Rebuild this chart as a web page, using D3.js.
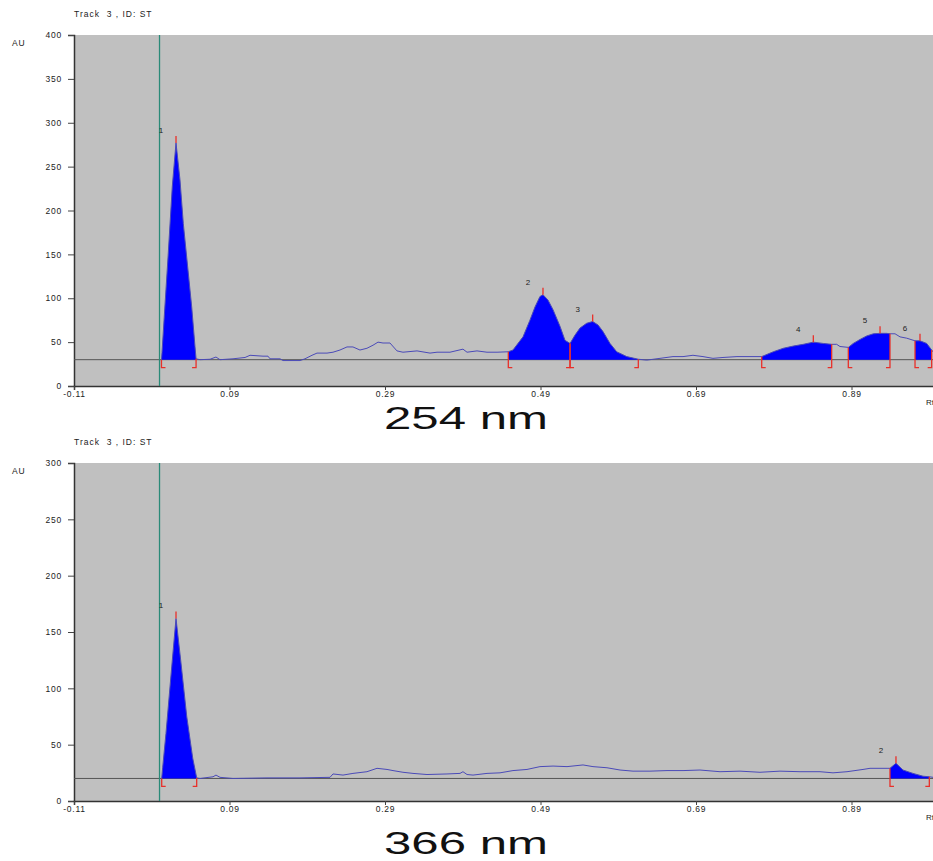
<!DOCTYPE html>
<html>
<head>
<meta charset="utf-8">
<script src="https://cdn.jsdelivr.net/npm/d3@7"></script>
<style>
html,body{margin:0;padding:0;background:#fff;overflow:hidden;}
svg{display:block;}
text{font-family:"Liberation Sans",Arial,sans-serif;}
</style>
</head>
<body>
<svg id="chart" width="933" height="861"></svg>
<script>
// ---------- data ----------
const xTicks = [-0.11, 0.09, 0.29, 0.49, 0.69, 0.89];
const xTickLabels = ["-0.11", "0.09", "0.29", "0.49", "0.69", "0.89"];
const yTicksTop = [0, 50, 100, 150, 200, 250, 300, 350, 400];
const yTicksBottom = [0, 50, 100, 150, 200, 250, 300];
const titleText = "Track  3 , ID: ST";
const topCaption = "254 nm";
const bottomCaption = "366 nm";
const baselineTop = 30;
const baselineBottom = 20;

// 254 nm trace (Rf, AU)
const rfTop = [0.0025,0.0032,0.0058,0.0113,0.0164,0.0212,0.0263,0.0306,0.0414,0.0456,0.0470,
  0.0521,0.0650,0.0726,0.0778,0.0945,0.1100,0.1164,0.1331,0.1395,0.1421,0.1550,0.1588,0.1807,
  0.1871,0.1961,0.2025,0.2154,0.2231,0.2321,0.2411,0.2488,0.2578,0.2668,0.2746,0.2810,0.2874,
  0.2964,0.3054,0.3131,0.3312,0.3479,0.3569,0.3736,0.3903,0.3955,0.4083,0.4212,0.4341,0.4486,
  0.4546,0.4675,0.4764,0.4829,0.4893,0.4932,0.4996,0.5061,0.5151,0.5215,0.5280,0.5344,0.5408,
  0.5494,0.5571,0.5640,0.5704,0.5794,0.5880,0.6009,0.6158,0.6266,0.6437,0.6604,0.6733,0.6861,
  0.6990,0.7118,0.7247,0.7427,0.7556,0.7745,0.7894,0.8023,0.8151,0.8280,0.8409,0.8537,0.8645,
  0.8709,0.8752,0.8859,0.8923,0.9009,0.9095,0.9181,0.9267,0.9353,0.9395,0.9460,0.9524,0.9610,
  0.9717,0.9781,0.9867,0.9931,1.0000];
const auTop = [30,38,75,152,227,277,235,185,90,45,31,
  30,30.5,33,30,31,32.5,35,34,34,31,31,29,29,
  31,35,37.5,37.5,38.5,41,44.5,44.5,41,43,46.5,50,49,
  49,40,38.5,40,37.5,38.5,38.5,42,38.5,40,38.5,38.5,39,
  41,56,75,90,102,104,98,87,68,52,48.5,58,66,
  71.5,73.5,69.5,62,48.5,39,33.5,30.5,29.5,31.5,33.5,33.5,35,
  33.5,31.5,32.5,33.5,33.5,33.5,39,43,45.5,47.5,50,48.5,47.5,
  47.5,45,44,48.5,53,57,59.5,60,60,59.5,59.5,56,54.5,
  51.5,51.5,48.5,41,33];
const peakIdsTop = ["1", "2", "3", "4", "5", "6"];
const peakStartTop = [0.0025, 0.4486, 0.5280, 0.7745, 0.8859, 0.9717];
const peakEndTop = [0.0470, 0.5280, 0.6158, 0.8645, 0.9395, 0.9931];
const peakApexTop = [0.0212, 0.4932, 0.5571, 0.8409, 0.9267, 0.9781];

// 366 nm trace (Rf, AU)
const rfBottom = [0.0028,0.0041,0.0083,0.0157,0.0212,0.0272,0.0350,0.0427,0.0478,
  0.0521,0.0688,0.0726,0.0778,0.0945,0.1382,0.1807,0.2193,0.2231,0.2360,0.2488,0.2668,0.2797,
  0.2926,0.3003,0.3131,0.3260,0.3440,0.3697,0.3865,0.3903,0.3955,0.4032,0.4212,0.4379,0.4546,
  0.4726,0.4893,0.5061,0.5241,0.5447,0.5575,0.5755,0.5923,0.6090,0.6308,0.6527,0.6733,0.6951,
  0.7209,0.7466,0.7723,0.7980,0.8238,0.8495,0.8662,0.8842,0.9048,0.9138,0.9357,0.9395,0.9472,
  0.9562,0.9691,0.9820,0.9901,1.0000];
const auBottom = [20,30,60,119,162,125,75,38,20.5,
  20,21.5,23,21,20,20.5,20.5,21,24,23,24.5,26,29,
  28,27,25.5,24.5,23.5,24,24.5,26,23.5,23,24.5,25,27,
  28,30.5,31,30.5,32,30.5,29.5,27.5,26.5,26.5,27,27,27.5,
  26,26.5,25.5,26.5,26,26,25,26,28,29,29,29,33.5,
  27.5,24.5,22,21.5,20.5];
const peakIdsBottom = ["1", "2"];
const peakStartBottom = [0.0028, 0.9395];
const peakEndBottom = [0.0478, 0.9901];
const peakApexBottom = [0.0212, 0.9472];

// ---------- drawing ----------
const svg = d3.select("#chart");
const FONT = '"Liberation Sans",Arial,sans-serif';

function drawPanel(o) {
  const x = d3.scaleLinear().domain([-0.11, 1.09]).range([74, 74 + 1.2 * 777.5]);
  const y = d3.scaleLinear().domain([0, o.yMax]).range([o.bottom, o.top]);
  const g = svg.append("g");
  const pts = o.rf.map((r, i) => ({r: r, a: o.au[i]}));

  g.append("rect").attr("x", 74).attr("y", o.top)
    .attr("width", 933 - 74).attr("height", o.bottom - o.top).attr("fill", "#c0c0c0");

  // title and unit
  g.append("text").attr("x", 74).attr("y", o.top - 18).attr("font-size", 8.5)
    .attr("letter-spacing", 1).attr("fill", "#222").style("white-space", "pre")
    .text(titleText);
  g.append("text").attr("x", 12).attr("y", o.top + 11).attr("font-size", 8.5)
    .attr("letter-spacing", 0.8).attr("fill", "#222").text("AU");

  // y axis
  const yAxis = d3.axisLeft(y).tickValues(o.yTicks).tickSize(6).tickPadding(6);
  const ya = g.append("g").attr("transform", "translate(74,0)").call(yAxis);
  ya.select(".domain").attr("stroke", "#333").attr("stroke-width", 1.5);
  ya.selectAll(".tick line").attr("stroke", "#444");
  ya.selectAll(".tick text").attr("font-size", 8.5).attr("letter-spacing", 0.8)
    .attr("fill", "#222").attr("font-family", FONT);

  // x axis
  const xAxis = d3.axisBottom(x).tickValues(xTicks).tickSize(4).tickPadding(1)
    .tickFormat((d, i) => xTickLabels[i]);
  const xa = g.append("g").attr("transform", `translate(0,${o.bottom})`).call(xAxis);
  xa.select(".domain").attr("stroke", "#333").attr("stroke-width", 1.5);
  xa.selectAll(".tick line").attr("stroke", "#444");
  xa.selectAll(".tick text").attr("font-size", 8.5).attr("letter-spacing", 0.8)
    .attr("fill", "#222").attr("font-family", FONT);
  g.append("text").attr("x", 926).attr("y", o.bottom + 19).attr("font-size", 8)
    .attr("fill", "#222").text("Rf");

  // baseline
  g.append("line").attr("x1", 74).attr("x2", 933)
    .attr("y1", y(o.baseline)).attr("y2", y(o.baseline))
    .attr("stroke", "#555").attr("stroke-width", 1);

  // start line
  g.append("line").attr("x1", x(0)).attr("x2", x(0))
    .attr("y1", o.top).attr("y2", o.bottom)
    .attr("stroke", "#2a8a78").attr("stroke-width", 1.3);

  // filled peaks
  const area = d3.area().x(d => x(d.r)).y0(y(o.baseline)).y1(d => y(d.a));
  o.starts.forEach((s, i) => {
    const e = o.ends[i];
    const seg = pts.filter(d => d.r >= s - 1e-9 && d.r <= e + 1e-9);
    g.append("path").attr("d", area(seg)).attr("fill", "#0000ff");
  });

  // trace
  const line = d3.line().x(d => x(d.r)).y(d => y(d.a));
  g.append("path").attr("d", line(pts)).attr("fill", "none")
    .attr("stroke", "#4a4ab8").attr("stroke-width", 1);

  const nearest = r => pts.reduce((b, d) => Math.abs(d.r - r) < Math.abs(b.r - r) ? d : b, pts[0]);
  const red = "#e8302a";
  const yb = y(o.baseline);
  // brackets
  o.starts.forEach((s, i) => {
    const ps = nearest(s), pe = nearest(o.ends[i]);
    g.append("path").attr("d", `M${x(ps.r)},${Math.min(y(ps.a), yb)}V${yb + 8}h4`)
      .attr("fill", "none").attr("stroke", red).attr("stroke-width", 1.3);
    g.append("path").attr("d", `M${x(pe.r)},${Math.min(y(pe.a), yb)}V${yb + 8}h-4`)
      .attr("fill", "none").attr("stroke", red).attr("stroke-width", 1.3);
    const pa = nearest(o.apex[i]);
    g.append("line").attr("x1", x(pa.r)).attr("x2", x(pa.r))
      .attr("y1", y(pa.a)).attr("y2", y(pa.a) - 7)
      .attr("stroke", red).attr("stroke-width", 1.3);
    g.append("text").attr("x", x(pa.r) - 15).attr("y", y(pa.a) - 10)
      .attr("text-anchor", "middle").attr("font-size", 8).attr("fill", "#222")
      .text(o.ids[i]);
  });

  // caption
  svg.append("text").attr("x", 384).attr("y", o.captionY)
    .attr("font-size", 32).attr("textLength", 164).attr("lengthAdjust", "spacingAndGlyphs")
    .attr("fill", "#111").text(o.caption);
}

drawPanel({
  top: 35, bottom: 386, yMax: 400, yTicks: yTicksTop, baseline: baselineTop,
  rf: rfTop, au: auTop, ids: peakIdsTop, starts: peakStartTop, ends: peakEndTop,
  apex: peakApexTop, caption: topCaption, captionY: 429
});
drawPanel({
  top: 463, bottom: 801, yMax: 300, yTicks: yTicksBottom, baseline: baselineBottom,
  rf: rfBottom, au: auBottom, ids: peakIdsBottom, starts: peakStartBottom, ends: peakEndBottom,
  apex: peakApexBottom, caption: bottomCaption, captionY: 854
});
</script>
</body>
</html>
